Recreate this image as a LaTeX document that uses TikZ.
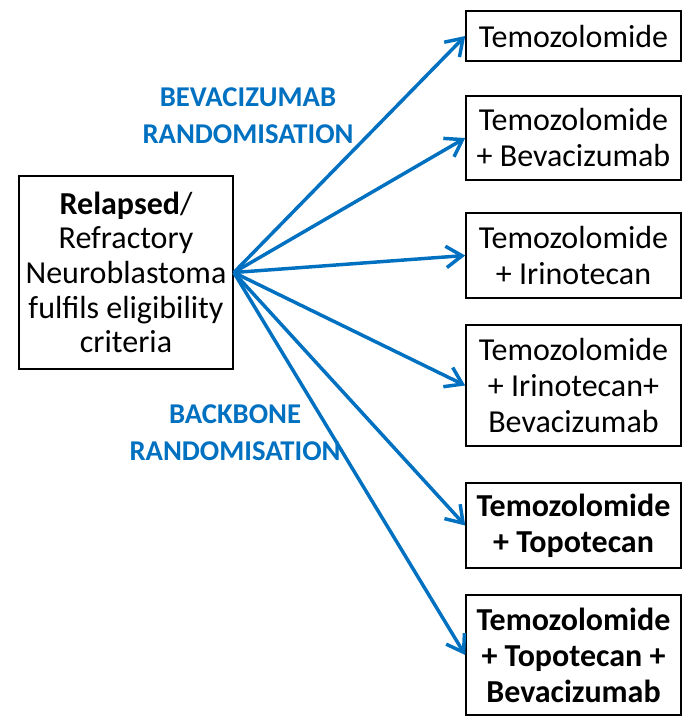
\documentclass[tikz,border=0pt]{standalone}
\usepackage{fontspec}
\setmainfont{Carlito}
\usetikzlibrary{arrows.meta}
\definecolor{armblue}{RGB}{0,112,192}

\begin{document}
\begin{tikzpicture}[x=0.75pt,y=-0.75pt,
  box/.style={draw,line width=1.2pt,align=center,inner sep=0pt,
    minimum width=161.25pt,font=\fontsize{24}{27}\selectfont},
  lbl/.style={align=center,text=armblue,font=\fontsize{21.5}{27.5}\selectfont\bfseries},
  arr/.style={draw=armblue,line width=2.6pt,-{Straight Barb[length=12pt,width=16pt,line width=2.6pt]}}]
\useasboundingbox (0,0) rectangle (692,721);
\node [box,minimum width=160.5pt,minimum height=144.75pt,font=\fontsize{24}{26}\selectfont] (p) at (126,272.5)
  {\textbf{Relapsed}/\\Refractory\\Neuroblastoma\\fulfils eligibility\\criteria};
\node [box,minimum height=37.5pt] (t1) at (573.5,36) {Temozolomide};
\node [box,minimum height=63pt] (t2) at (573.5,138) {Temozolomide\\+ Bevacizumab};
\node [box,minimum height=63.75pt] (t3) at (573.5,255.5) {Temozolomide\\+ Irinotecan};
\node [box,minimum height=90.75pt] (t4) at (573.5,385.5) {Temozolomide\\+ Irinotecan+\\Bevacizumab};
\node [box,minimum height=63.75pt] (t5) at (573.5,525.5) {\bfseries Temozolomide\\\bfseries + Topotecan};
\node [box,minimum height=90pt] (t6) at (573.5,655) {\bfseries Temozolomide\\\bfseries + Topotecan +\\\bfseries Bevacizumab};
% randomisation labels
\node [lbl] (bev) at (248,116) {BEVACIZUMAB\\RANDOMISATION};
\node [lbl] (bb) at (235,433) {BACKBONE\\RANDOMISATION};
\foreach \t in {t1,t2,t3,t4,t5,t6}
  \draw [arr] (p.east) -- (\t.west);
\end{tikzpicture}
\end{document}
